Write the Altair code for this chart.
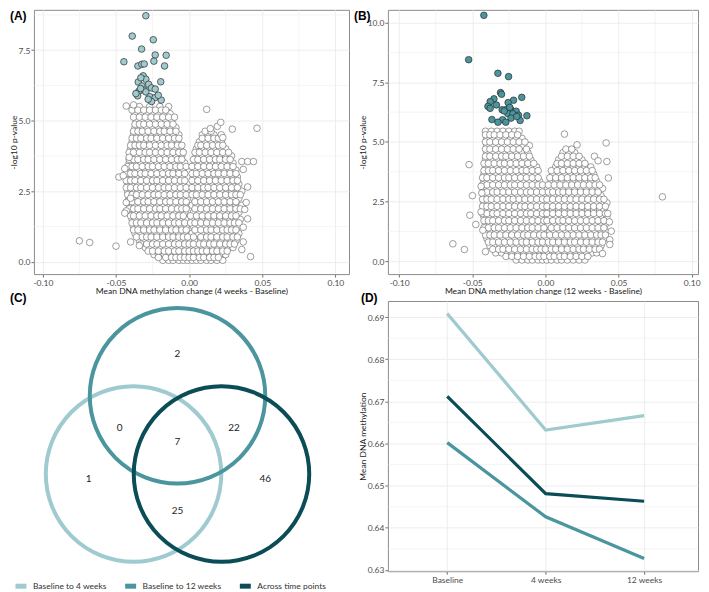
import altair as alt
import pandas as pd

FONT = "Lato"
GRID = "#EBEBEB"
FRAME = "#8C8C8C"

SETS = ["Baseline to 4 weeks", "Baseline to 12 weeks", "Across time points"]
SET_COLORS = ["#9FCBD0", "#4B969E", "#0B4D57"]

# ---------------- Panel A (4 weeks - Baseline) ----------------
A_SIG = [(-0.0296, 8.72), (-0.0389, 8.00), (-0.0245, 7.87), (-0.0325, 7.54), (-0.0232, 7.33),
         (-0.0157, 7.32), (-0.0446, 7.09), (-0.0241, 7.11), (-0.0350, 6.94), (-0.0323, 7.00),
         (-0.0307, 7.01), (-0.0168, 6.94), (-0.0314, 6.59), (-0.0296, 6.47), (-0.0348, 6.37),
         (-0.0194, 6.38), (-0.0277, 6.29), (-0.0323, 6.23), (-0.0257, 6.16), (-0.0307, 6.08),
         (-0.0232, 6.12), (-0.0344, 6.04), (-0.0296, 6.02), (-0.0269, 5.85), (-0.0352, 5.88),
         (-0.0232, 5.82), (-0.0191, 5.73), (-0.0257, 5.68), (-0.0332, 6.14), (-0.0280, 5.76),
         (-0.0211, 5.90), (-0.0330, 6.52), (-0.0364, 5.96)]

# dense cloud: (-log10 p, [mean change in thousandths])
A_ROWS = [
    (0.05, [-18, -14, -11, -7, -4, -1, 2, 5, 8, 12, 15, 19, 23]),
    (0.25, [-24, -21, -17, -13, -9, -5, -2, 1, 4, 7, 10, 14, 17, 21, 25]),
    (0.5, [-30, -27, -23, -19, -16, -12, -8, -5, -2, 2, 5, 9, 12, 16, 20, 23, 27, 30]),
    (0.75, [-34, -31, -27, -24, -20, -16, -12, -9, -5, -2, 1, 4, 8, 11, 15, 19, 22, 26, 29, 32]),
    (1.0, [-37, -33, -29, -25, -22, -18, -14, -10, -7, -3, 2, 6, 10, 13, 17, 21, 24, 28, 31, 34]),
    (1.25, [-38, -35, -31, -27, -23, -20, -16, -12, -8, -5, -2, 3, 7, 11, 15, 19, 22, 26, 30, 33]),
    (1.5, [-39, -36, -32, -28, -24, -20, -17, -13, -9, -5, -2, 2, 6, 9, 13, 17, 21, 25, 28, 32, 35]),
    (1.75, [-40, -37, -33, -29, -25, -21, -18, -14, -10, -6, -3, 3, 7, 11, 15, 19, 23, 27, 30, 34]),
    (2.0, [-41, -37, -33, -30, -26, -22, -18, -14, -11, -7, -3, 2, 5, 9, 13, 17, 21, 25, 28, 32, 36]),
    (2.25, [-41, -38, -34, -30, -26, -22, -19, -15, -11, -7, -4, 3, 7, 11, 15, 19, 23, 27, 30, 34]),
    (2.5, [-42, -38, -35, -31, -27, -23, -19, -15, -12, -8, -4, 3, 6, 10, 14, 18, 22, 26, 29, 33, 36]),
    (2.75, [-42, -39, -35, -31, -27, -24, -20, -16, -12, -8, -4, 4, 8, 12, 16, 20, 24, 28, 31, 34]),
    (3.0, [-43, -39, -35, -32, -28, -24, -20, -16, -13, -9, -5, 3, 7, 11, 14, 18, 22, 26, 30, 33]),
    (3.25, [-42, -38, -34, -30, -27, -23, -19, -15, -11, -7, -4, 4, 8, 12, 16, 20, 24, 28, 32]),
    (3.5, [-41, -37, -33, -29, -26, -22, -18, -14, -10, -7, -3, 4, 7, 11, 15, 19, 23, 27, 30]),
    (3.75, [-40, -36, -32, -28, -25, -21, -17, -13, -9, -5, 5, 9, 13, 17, 21, 25, 29]),
    (4.0, [-40, -36, -33, -29, -25, -21, -17, -13, -10, -6, 5, 9, 13, 17, 21, 25]),
    (4.25, [-39, -35, -31, -27, -24, -20, -16, -12, -8, 7, 11, 15, 19, 22]),
    (4.5, [-38, -34, -30, -26, -22, -19, -15, -11, -7, 9, 13, 17]),
    (4.75, [-37, -33, -29, -25, -21, -17, -13, -9]),
    (5.0, [-36, -32, -28, -24, -20, -16, -12]),
    (5.25, [-37, -33, -29, -25, -21, -17, -13]),
    (5.5, [-34, -27, -20, -14]),
]
A_ROWS_MID = [
    (0.15, [-21, -16, -12, -9, -6, -3, 0, 3, 7, 10, 14, 17, 20]),
    (0.375, [-28, -25, -21, -17, -14, -10, -7, -3, 0, 3, 6, 9, 12, 16, 19, 23, 26]),
    (0.625, [-33, -29, -25, -22, -18, -14, -10, -7, -3, 0, 3, 7, 10, 14, 17, 21, 25, 28, 31]),
    (0.875, [-36, -32, -29, -26, -22, -18, -14, -11, -7, -4, -1, 3, 8, 12, 15, 19, 23, 26, 30, 33]),
    (1.125, [-38, -35, -31, -27, -24, -20, -16, -12, -9, -5, -2, 4, 8, 12, 15, 19, 23, 26, 29, 32]),
    (1.375, [-39, -36, -33, -29, -25, -22, -18, -14, -10, -7, -3, 1, 4, 8, 12, 16, 20, 24, 28, 31, 34]),
    (1.625, [-40, -38, -34, -30, -26, -22, -19, -15, -11, -7, -4, 1, 5, 9, 13, 17, 21, 25, 29, 32]),
    (1.875, [-41, -38, -35, -31, -27, -23, -20, -16, -12, -8, -5, -2, 4, 8, 12, 16, 20, 24, 28, 32, 35]),
    (2.125, [-42, -39, -35, -31, -28, -24, -20, -16, -13, -9, -5, -2, 4, 8, 12, 16, 20, 24, 28, 32]),
    (2.375, [-42, -39, -36, -32, -28, -24, -21, -17, -13, -9, -6, -2, 2, 5, 9, 13, 17, 21, 25, 29, 32, 35]),
    (2.625, [-43, -40, -36, -33, -29, -25, -21, -17, -14, -10, -6, -2, 2, 6, 10, 13, 17, 21, 25, 29, 33]),
    (2.875, [-43, -40, -37, -33, -29, -25, -22, -18, -14, -10, -6, -3, 2, 6, 10, 14, 18, 22, 26, 30, 33]),
    (3.125, [-43, -40, -37, -33, -30, -26, -22, -18, -14, -11, -7, -3, 2, 5, 9, 13, 17, 20, 24, 28, 32]),
    (3.375, [-42, -39, -36, -32, -28, -25, -21, -17, -13, -9, -6, -2, 2, 6, 10, 14, 18, 22, 26, 30]),
    (3.625, [-41, -38, -35, -31, -28, -24, -20, -16, -12, -8, -5, 3, 6, 10, 14, 18, 21, 25, 28]),
    (3.875, [-41, -38, -34, -30, -27, -23, -19, -15, -11, -7, -4, 4, 7, 11, 15, 19, 23, 27]),
    (4.125, [-40, -37, -34, -31, -27, -23, -19, -15, -12, -8, -5, 6, 8, 12, 16, 20, 23]),
    (4.375, [-39, -36, -33, -29, -26, -22, -18, -14, -10, -7, 9, 13, 17, 20]),
    (4.625, [-38, -35, -32, -28, -24, -20, -17, -13, -9, 11, 15]),
    (4.875, [-37, -34, -31, -27, -23, -19, -15, -11]),
    (5.125, [-38, -34, -30, -26, -22, -18, -14, -10]),
    (5.375, [-39, -35, -31, -27, -23, -19, -16]),
]
A_OUT = [(-0.075, 0.74), (-0.068, 0.68), (-0.050, 0.55), (-0.040, 0.70), (-0.034, 0.57),
         (-0.041, 3.70), (-0.044, 3.30), (-0.048, 3.00), (-0.045, 3.05), (-0.043, 2.10),
         (-0.043, 1.80), (-0.044, 1.72), (-0.040, 2.25), (-0.043, 5.52), (-0.038, 5.56),
         (0.036, 3.55), (0.040, 3.55), (0.044, 3.55), (0.037, 3.27), (0.040, 2.65),
         (0.039, 2.10), (0.038, 1.85), (0.040, 1.52), (0.037, 1.22), (0.037, 0.70),
         (0.036, 0.43), (0.042, 0.18), (0.012, 5.40), (0.0145, 4.72), (0.0193, 4.80),
         (0.0216, 4.94), (0.0295, 4.70), (0.0464, 4.73), (0.022, 4.50), (0.023, 4.40)]

# ---------------- Panel B (12 weeks - Baseline) ----------------
B_SIG = [(-0.0421, 10.31), (-0.0525, 8.45), (-0.0325, 7.88), (-0.0252, 7.74), (-0.0307, 7.07),
         (-0.0300, 7.00), (-0.0162, 6.87), (-0.0352, 6.81), (-0.0218, 6.75), (-0.0378, 6.69),
         (-0.0255, 6.65), (-0.0393, 6.49), (-0.0378, 6.41), (-0.0296, 6.35), (-0.0264, 6.37),
         (-0.0237, 6.36), (-0.0200, 6.29), (-0.0257, 6.19), (-0.0223, 6.18), (-0.0184, 6.12),
         (-0.0127, 6.10), (-0.0235, 6.00), (-0.0366, 5.94), (-0.0293, 5.93), (-0.0173, 5.90),
         (-0.0325, 5.83), (-0.0271, 5.83), (-0.0196, 6.07), (-0.0282, 6.30), (-0.0244, 6.45),
         (-0.0335, 6.55)]

B_ROWS = [
    (0.05, [-20, -16, -12, -9, -5, -2, 1, 4, 8, 11, 15, 19, 23, 27]),
    (0.35, [-34, -30, -26, -23, -19, -15, -11, -7, -4, -1, 2, 5, 9, 13, 17, 21, 24, 28, 32, 35]),
    (0.65, [-38, -34, -31, -27, -23, -19, -15, -12, -8, -4, -1, 3, 7, 11, 15, 18, 22, 26, 30, 34, 38]),
    (0.95, [-40, -36, -33, -29, -25, -21, -17, -13, -9, -6, -2, 1, 5, 9, 13, 17, 21, 25, 28, 32, 36, 40]),
    (1.25, [-41, -37, -34, -30, -26, -22, -18, -14, -10, -7, -3, 3, 6, 10, 14, 18, 22, 26, 30, 34, 38, 41]),
    (1.55, [-41, -38, -34, -30, -26, -22, -18, -15, -11, -7, -3, 2, 6, 10, 14, 18, 22, 26, 30, 34, 38, 41]),
    (1.85, [-42, -38, -35, -31, -27, -23, -19, -15, -11, -7, -3, 3, 7, 11, 15, 19, 23, 27, 31, 35, 39, 42]),
    (2.15, [-42, -38, -35, -31, -27, -23, -19, -15, -12, -8, -4, 2, 5, 9, 13, 17, 21, 25, 29, 33, 37, 40]),
    (2.45, [-42, -39, -35, -31, -27, -23, -20, -16, -12, -8, -4, 3, 7, 11, 15, 19, 23, 27, 31, 35, 39, 42]),
    (2.75, [-42, -38, -35, -31, -27, -23, -19, -15, -12, -8, -4, 3, 6, 10, 14, 18, 22, 26, 30, 34, 38]),
    (3.05, [-42, -38, -34, -30, -26, -22, -19, -15, -11, -7, -3, 4, 8, 12, 16, 20, 24, 28, 32, 36, 39]),
    (3.35, [-42, -38, -34, -30, -27, -23, -19, -15, -11, -7, -4, 4, 7, 11, 15, 19, 23, 27, 31, 35]),
    (3.65, [-42, -38, -34, -30, -26, -22, -18, -15, -11, -7, 5, 9, 13, 17, 21, 25, 29, 33]),
    (3.95, [-41, -37, -33, -30, -26, -22, -18, -14, -10, -6, 7, 11, 15, 19, 23, 27, 31]),
    (4.25, [-41, -37, -33, -29, -25, -21, -17, -14, -10, 9, 13, 17, 21, 25]),
    (4.55, [-40, -36, -32, -28, -24, -20, -16, -12, 12, 16, 20]),
    (4.85, [-40, -36, -32, -28, -24, -20, -15, -11]),
    (5.15, [-40, -36, -32, -28, -24, -20, -16]),
    (5.45, [-41, -37, -33, -29, -25, -21, -18]),
]
B_ROWS_MID = [
    (0.2, [-27, -23, -19, -15, -11, -7, -4, -1, 3, 6, 10, 13, 17, 21, 25, 29]),
    (0.5, [-36, -32, -29, -25, -21, -17, -13, -9, -6, -3, 0, 4, 7, 11, 15, 19, 23, 26, 30, 34, 37]),
    (0.8, [-39, -36, -32, -28, -24, -20, -16, -13, -9, -5, -2, 2, 5, 9, 13, 17, 20, 24, 28, 32, 36, 39]),
    (1.1, [-41, -38, -35, -31, -27, -23, -19, -15, -12, -8, -4, -1, 3, 7, 11, 15, 19, 23, 27, 31, 35, 38, 41]),
    (1.4, [-42, -39, -35, -32, -28, -24, -20, -16, -12, -9, -5, -1, 4, 8, 12, 16, 20, 24, 28, 32, 36, 40]),
    (1.7, [-42, -39, -36, -32, -28, -25, -21, -17, -13, -9, -5, -1, 1, 5, 9, 12, 16, 20, 24, 28, 32, 36, 40]),
    (2.0, [-43, -40, -36, -33, -29, -25, -21, -17, -13, -10, -6, -2, 1, 5, 9, 13, 17, 21, 25, 29, 33, 37, 41]),
    (2.3, [-43, -40, -37, -33, -29, -25, -21, -17, -14, -10, -6, -2, 1, 5, 9, 13, 17, 21, 25, 29, 33, 37, 41]),
    (2.6, [-43, -40, -37, -33, -29, -25, -22, -18, -14, -10, -6, -2, 1, 5, 9, 13, 17, 21, 25, 29, 33, 37, 40]),
    (2.9, [-43, -40, -36, -33, -29, -25, -21, -17, -13, -10, -6, -2, 2, 5, 9, 12, 16, 20, 24, 28, 32, 36]),
    (3.2, [-43, -40, -36, -32, -28, -24, -21, -17, -13, -9, -5, -2, 2, 6, 10, 14, 18, 22, 26, 30, 34, 37]),
    (3.5, [-43, -40, -36, -32, -28, -25, -21, -17, -13, -9, -5, 3, 7, 11, 15, 19, 23, 27, 31, 34]),
    (3.8, [-42, -39, -36, -32, -28, -24, -20, -16, -13, -9, -5, 4, 8, 12, 16, 20, 24, 28, 32]),
    (4.1, [-42, -39, -35, -31, -28, -24, -20, -16, -12, -8, 8, 11, 15, 19, 23, 27]),
    (4.4, [-41, -38, -34, -30, -27, -23, -19, -15, -11, 11, 15, 19, 23]),
    (4.7, [-41, -38, -34, -30, -26, -22, -18, -13, 14, 18]),
    (5.0, [-41, -38, -34, -30, -26, -22, -18, -14]),
    (5.3, [-41, -38, -35, -31, -27, -23, -19]),
]
B_OUT = [(-0.0633, 0.73), (-0.0554, 0.49), (-0.0522, 4.05), (-0.0499, 2.75), (-0.0517, 1.93),
         (-0.0476, 1.54), (-0.044, 2.07), (-0.0428, 1.30), (-0.041, 0.40), (-0.044, 3.14),
         (-0.0435, 2.86), (0.080, 2.70), (0.0415, 4.96), (0.042, 4.18), (0.043, 3.49),
         (0.0335, 4.40), (0.036, 4.21), (0.013, 5.33), (0.0216, 4.88), (0.0426, 2.00),
         (0.0437, 1.65), (0.045, 1.26), (0.044, 0.90), (0.044, 0.70), (0.039, 0.32)]

VOLC_X_MAJOR = [-0.10, -0.05, 0.0, 0.05, 0.10]
VOLC_X_MINOR = [-0.075, -0.025, 0.025, 0.075]
A_Y_MAJOR = [0, 2.5, 5.0, 7.5]
B_Y_MAJOR = [0, 2.5, 5.0, 7.5, 10.0]
Y_MINOR = [1.25, 3.75, 6.25, 8.75]

# ---------------- Panel C (Venn) ----------------
VENN_CX = [-0.49, 0.0, 0.49]
VENN_CY = [0.0, 0.872, 0.0]
VENN_COUNTS = ["2", "0", "7", "22", "1", "46", "25"]
VENN_LX = [0.0, -0.644, 0.0, 0.63, -0.989, 0.978, 0.0]
VENN_LY = [1.336, 0.517, 0.361, 0.517, -0.061, -0.061, -0.413]

# ---------------- Panel D ----------------
TIMEPOINTS = ["Baseline", "4 weeks", "12 weeks"]
MEAN_4WK = [0.6908, 0.6632, 0.6666]
MEAN_12WK = [0.6602, 0.6426, 0.6327]
MEAN_ACROSS = [0.6712, 0.6481, 0.6463]
D_Y_MAJOR = [0.63, 0.64, 0.65, 0.66, 0.67, 0.68, 0.69]
D_Y_MINOR = [0.635, 0.645, 0.655, 0.665, 0.675, 0.685]

color_scale = alt.Scale(domain=SETS, range=SET_COLORS)
legend = alt.Legend(orient="none", legendX=-21, legendY=570, direction="horizontal", title=None,
                    symbolType="stroke", symbolStrokeWidth=5, symbolSize=121, symbolOpacity=1,
                    labelFont=FONT, labelFontSize=8.5, labelColor="#333333", labelOffset=4,
                    columnPadding=8)


def axis(title, values, label_expr, orient):
    return alt.Axis(title=title, values=values, labelExpr=label_expr, orient=orient,
                    labelAngle=0, domain=False, grid=True, gridColor=GRID, gridWidth=0.9,
                    tickColor="#4d4d4d", tickSize=3, tickWidth=0.8,
                    labelFont=FONT, labelFontSize=8.5, labelColor="#4d4d4d", labelPadding=1,
                    titleFont=FONT, titleFontSize=8.5, titleFontWeight="normal",
                    titleColor="#222222", titlePadding=0)


def panel_label(text, dx, dy):
    return alt.Chart(pd.DataFrame({"t": [text]})).mark_text(
        align="left", baseline="middle", font="Liberation Sans", fontWeight="bold",
        fontSize=12, color="black").encode(text="t:N", x=alt.value(dx), y=alt.value(dy))


def cloud_df(rows, rows_mid, extra):
    recs = [{"x": v / 1000.0, "y": y} for y, xs in rows for v in xs]
    recs += [{"x": v / 1000.0, "y": y} for y, xs in rows_mid for v in xs]
    recs += [{"x": x, "y": y} for x, y in extra]
    return pd.DataFrame(recs)


X_LABELS = "(datum.value < 0 ? '-' : '') + format(abs(datum.value), '.2f')"


def volcano(rows, rows_mid, extra, sig, sig_fill, xdom, ydom, w, h, xtitle, ymajor,
            label, ldx, ldy):
    xs = alt.Scale(domain=xdom, nice=False, zero=False)
    ys = alt.Scale(domain=ydom, nice=False, zero=False)
    xa = axis(xtitle, VOLC_X_MAJOR, X_LABELS, "bottom")
    ya = axis("-log10  p-value", ymajor, "format(datum.value, '.1f')", "left")
    minor_x = alt.Chart(pd.DataFrame({"x": VOLC_X_MINOR})).mark_rule(
        color=GRID, strokeWidth=0.5).encode(x=alt.X("x:Q", scale=xs, axis=xa))
    minor_y = alt.Chart(pd.DataFrame({"y": Y_MINOR})).mark_rule(
        color=GRID, strokeWidth=0.5).encode(y=alt.Y("y:Q", scale=ys, axis=ya))
    cloud = alt.Chart(cloud_df(rows, rows_mid, extra)).mark_point(
        filled=True, fill="white", stroke="#5e5e5e", strokeWidth=0.6, size=44, opacity=1
    ).encode(x=alt.X("x:Q", scale=xs, axis=xa), y=alt.Y("y:Q", scale=ys, axis=ya))
    sigdf = pd.DataFrame(sig, columns=["x", "y"])
    sigl = alt.Chart(sigdf).mark_point(
        filled=True, fill=sig_fill, stroke="#2a2a2a", strokeWidth=0.7, size=44, opacity=1
    ).encode(x=alt.X("x:Q", scale=xs, axis=xa), y=alt.Y("y:Q", scale=ys, axis=ya))
    return alt.layer(minor_x, minor_y, cloud, sigl, panel_label(label, ldx, ldy)).properties(
        width=w, height=h)


A = volcano(A_ROWS, A_ROWS_MID, A_OUT, A_SIG, SET_COLORS[0], [-0.1061, 0.1093], [-0.44, 8.93],
            316, 265, "Mean DNA methylation change (4 weeks - Baseline)", A_Y_MAJOR,
            "(A)", -24, 6.5)
B = volcano(B_ROWS, B_ROWS_MID, B_OUT, B_SIG, SET_COLORS[1], [-0.1077, 0.1043], [-0.54, 10.54],
            311, 265, "Mean DNA methylation change (12 weeks - Baseline)", B_Y_MAJOR,
            "(B)", -34, 6.5)

# Venn
venn_df = pd.DataFrame({"set": SETS, "cx": VENN_CX, "cy": VENN_CY})
cxs = alt.Scale(domain=[-1.6, 1.911], nice=False, zero=False)
cys = alt.Scale(domain=[-1.083, 1.928], nice=False, zero=False)
circles = alt.Chart(venn_df).mark_point(
    shape="circle", filled=False, size=30976, strokeWidth=4, opacity=1
).encode(
    x=alt.X("cx:Q", scale=cxs, axis=None),
    y=alt.Y("cy:Q", scale=cys, axis=None),
    color=alt.Color("set:N", scale=color_scale, sort=SETS, legend=legend),
)
counts_df = pd.DataFrame({"n": VENN_COUNTS, "lx": VENN_LX, "ly": VENN_LY})
counts = alt.Chart(counts_df).mark_text(font=FONT, fontSize=10, color="#222222").encode(
    x=alt.X("lx:Q", scale=cxs, axis=None), y=alt.Y("ly:Q", scale=cys, axis=None), text="n:N")
C = alt.layer(circles, counts, panel_label("(C)", -24, -3)).properties(
    width=316, height=271, view=alt.ViewBackground(stroke="transparent"))

# Lines
d_rows = []
for s, vals in zip(SETS, [MEAN_4WK, MEAN_12WK, MEAN_ACROSS]):
    for t, v in zip(TIMEPOINTS, vals):
        d_rows.append({"set": s, "time": t, "value": v})
d_df = pd.DataFrame(d_rows)
dys = alt.Scale(domain=[0.6297, 0.6938], nice=False, zero=False)
d_ya = axis("Mean DNA methylation", D_Y_MAJOR, "format(datum.value, '.2f')", "left")
minor_d = alt.Chart(pd.DataFrame({"value": D_Y_MINOR})).mark_rule(
    color=GRID, strokeWidth=0.5).encode(y=alt.Y("value:Q", scale=dys, axis=d_ya))
lines = alt.Chart(d_df).mark_line(strokeWidth=3.2).encode(
    x=alt.X("time:N", sort=TIMEPOINTS,
            scale=alt.Scale(type="point", padding=0.575, align=0.524),
            axis=axis(None, TIMEPOINTS, "datum.label", "bottom")),
    y=alt.Y("value:Q", scale=dys, axis=d_ya),
    color=alt.Color("set:N", scale=color_scale, sort=SETS, legend=legend),
    detail="set:N",
)
D = alt.layer(minor_d, lines, panel_label("(D)", -27, -3)).properties(width=311, height=271)

chart = alt.concat(A, B, C, D, columns=2, spacing={"row": 27, "column": 39}, bounds="flush"
                   ).properties(padding=0).configure_view(stroke=FRAME, strokeWidth=1)

chart.save("out.html", embed_options={"renderer": "svg", "actions": False})
